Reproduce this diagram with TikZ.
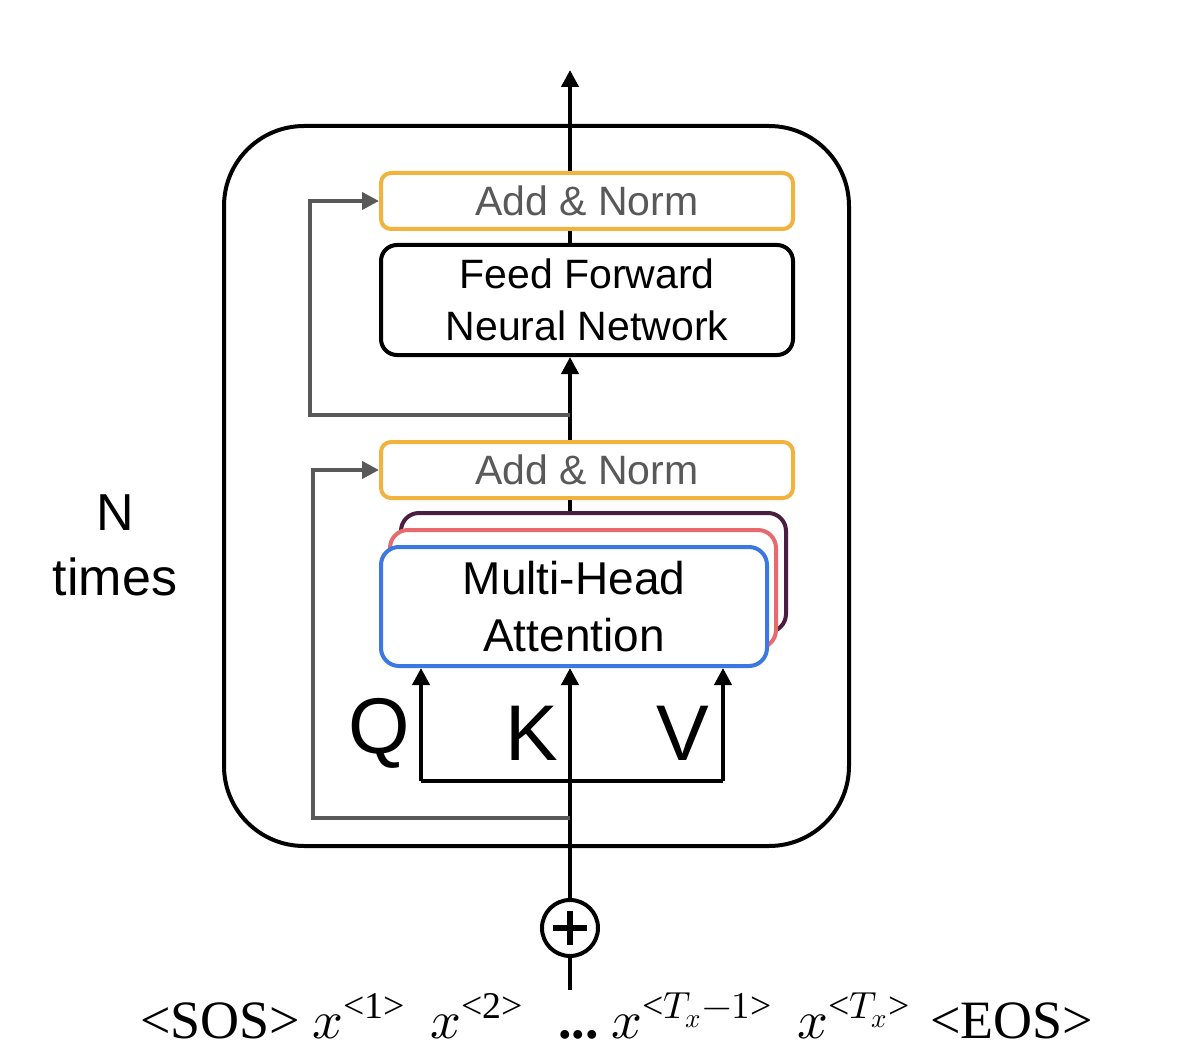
\documentclass[tikz,border=0pt]{standalone}
\usepackage{amsmath}
\usepackage{fontspec}
\usepackage{unicode-math}
\setmainfont{Liberation Sans}
\setmathfont{Latin Modern Math}
\newfontfamily\tnr{Liberation Serif}
\usetikzlibrary{arrows.meta}
\definecolor{anorange}{RGB}{242,178,62}
\definecolor{angray}{RGB}{89,89,89}
\definecolor{mhblue}{RGB}{59,120,225}
\definecolor{mhpink}{RGB}{232,106,110}
\definecolor{mhpurple}{RGB}{74,30,64}
\tikzset{
  blk/.style={line width=2pt},
  blkarr/.style={line width=2pt, -{Triangle[length=8.5pt,width=8.5pt]}},
  resarr/.style={line width=2pt, draw=angray, -{Triangle[length=8.5pt,width=8.5pt]}},
  addnorm/.style={draw=anorange, line width=2pt, rounded corners=5pt, fill=white,
    minimum width=206pt, minimum height=28pt, inner sep=0pt, text=angray,
    font=\fontsize{20.5}{24}\selectfont},
  ffbox/.style={draw=black, line width=2pt, rounded corners=8pt, fill=white,
    minimum width=206pt, minimum height=55pt, inner sep=0pt, align=center,
    font=\fontsize{20.5}{26}\selectfont},
  headbox/.style={line width=2pt, rounded corners=9pt, fill=white,
    minimum width=193pt, minimum height=59.5pt, inner sep=0pt, align=center,
    font=\fontsize{23}{28.5}\selectfont},
  qkv/.style={font=\fontsize{39.5}{40}\selectfont, inner sep=0pt},
  bot/.style={anchor=base west, inner sep=0pt, font=\fontsize{27}{30}\selectfont\tnr},
}
\begin{document}
\begin{tikzpicture}[x=0.5pt,y=-0.5pt]
\useasboundingbox (0,0) rectangle (1196,1054);
% outer block
\draw[line width=2pt, rounded corners=40pt] (224,126) rectangle (849,846);
% coordinates
\coordinate (top) at (570,70);
\coordinate (split2) at (570,415);
\coordinate (c2) at (310,415);
\coordinate (split1) at (570,818);
\coordinate (c1) at (313,818);
\coordinate (qb) at (421,781);
\coordinate (vb) at (723,781);
\coordinate (inp) at (570,990);
% boxes
\node[addnorm] (an2) at (587,201) {Add \& Norm};
\node[ffbox] (ff) at (587,300) {Feed Forward\\Neural Network};
\node[addnorm] (an1) at (587,470) {Add \& Norm};
\node[headbox, draw=mhpurple, minimum width=192.5pt] (h3) at (593.5,572.5) {};
\node[headbox, draw=mhpink, minimum height=59pt] (h2) at (583,589) {};
\node[headbox, draw=mhblue] (h1) at (574,606.5) {Multi-Head\\Attention};
% plus
\node[draw, circle, line width=2pt, minimum size=28pt, inner sep=0pt] (plus) at (570,928) {};
\draw[line width=3pt] ([xshift=-8.5pt]plus.center) -- ([xshift=8.5pt]plus.center);
\draw[line width=3pt] ([yshift=-8.5pt]plus.center) -- ([yshift=8.5pt]plus.center);
% main path
\draw[blkarr] (an2.north -| top) -- (top);
\draw[blk] (ff.north -| top) -- (an2.south -| top);
\draw[blkarr] (an1.north -| top) -- (ff.south -| top);
\draw[blk] (h3.north -| top) -- (an1.south -| top);
\draw[blk] (inp) -- (plus.south);
\draw[blkarr] (plus.north) -- (plus.north |- h1.south);
\draw[blk] (qb) -- (vb);
\draw[blkarr] (qb) -- (qb |- h1.south);
\draw[blkarr] (vb) -- (vb |- h1.south);
% residuals
\draw[resarr] (split2) -- (c2) |- (an2.west);
\draw[resarr] (split1) -- (c1) |- (an1.west);
% labels
\node[qkv] (q) at (379,733) {Q};
\node[qkv] (k) at (532,733) {K};
\node[qkv] (v) at (683,733) {V};
\node[align=center, inner sep=0pt, font=\fontsize{26}{32.5}\selectfont] (n) at (115,545) {N\\times};
% bottom sequence
\node[bot] (sos) at (140,1038) {<SOS>};
\node[bot] (x1) at (312,1038) {$x^{\text{<1>}}$};
\node[bot] (x2) at (430,1038) {$x^{\text{<2>}}$};
\node[bot] (dots) at (558,1038) {\textbf{...}};
\node[bot] (xt1) at (611,1038) {$x^{\text{<}T_x-1\text{>}}$};
\node[bot] (xt) at (797,1038) {$x^{\text{<}T_x\text{>}}$};
\node[bot] (eos) at (930,1038) {<EOS>};
\end{tikzpicture}
\end{document}
